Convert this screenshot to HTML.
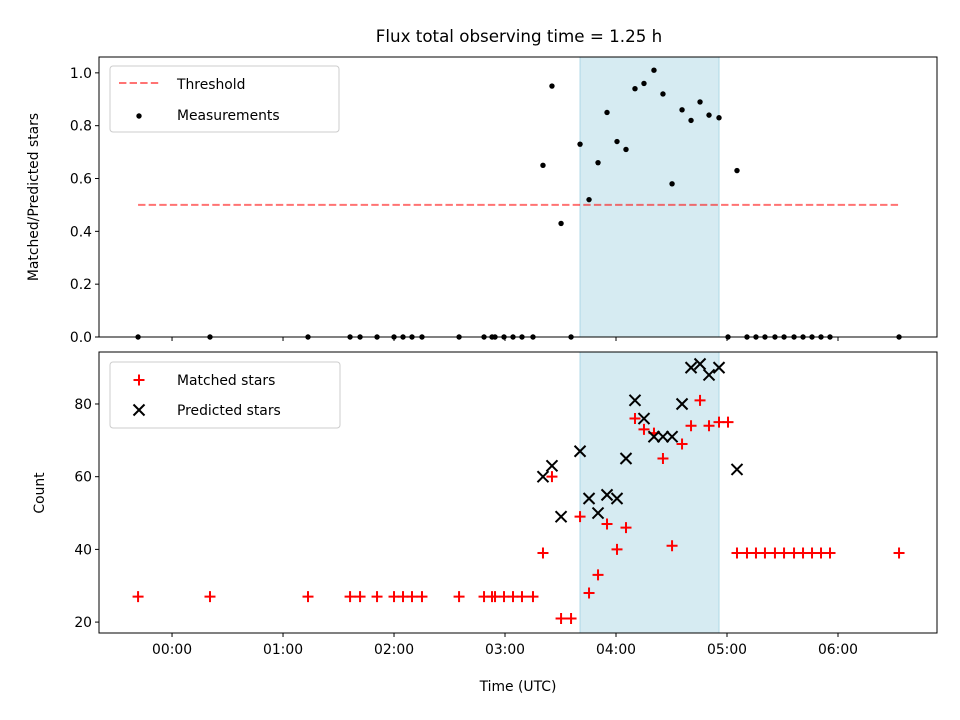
<!DOCTYPE html>
<html><head><meta charset="utf-8"><style>
body{margin:0;background:#fff}
svg{display:block;font-family:"DejaVu Sans","Liberation Sans",sans-serif}
</style></head><body>
<svg id="c" width="960" height="720" viewBox="0 0 960 720"></svg>
<script>
const times=[-0.306,0.342,1.225,1.604,1.694,1.847,2.0,2.081,2.162,2.252,2.586,2.811,2.883,2.91,2.991,3.072,3.153,3.252,3.342,3.423,3.505,3.595,3.676,3.757,3.838,3.919,4.009,4.09,4.171,4.252,4.342,4.423,4.505,4.595,4.676,4.757,4.838,4.928,5.009,5.09,5.18,5.261,5.342,5.432,5.514,5.604,5.685,5.766,5.847,5.928,6.55];
const matched=[27,27,27,27,27,27,27,27,27,27,27,27,27,27,27,27,27,27,39,60,21,21,49,28,33,47,40,46,76,73,72,65,41,69,74,81,74,75,75,39,39,39,39,39,39,39,39,39,39,39,39];
const predicted=[null,null,null,null,null,null,null,null,null,null,null,null,null,null,null,null,null,null,60,63,49,null,67,54,50,55,54,65,81,76,71,71,71,80,90,91,88,90,null,62,null,null,null,null,null,null,null,null,null,null,null];
const ratio=[0,0,0,0,0,0,0,0,0,0,0,0,0,0,0,0,0,0,0.65,0.95,0.43,0,0.73,0.52,0.66,0.85,0.74,0.71,0.94,0.96,1.01,0.92,0.58,0.86,0.82,0.89,0.84,0.83,0,0.63,0,0,0,0,0,0,0,0,0,0,0];
const threshold=0.5;
const thresholdSpan=[-0.306,6.55];
const obsSpan=[3.676,4.928];
const xTicks=[0,1,2,3,4,5,6];
const xTickLabels=["00:00","01:00","02:00","03:00","04:00","05:00","06:00"];
const topTicks=[0,0.2,0.4,0.6,0.8,1.0];
const botTicks=[20,40,60,80];

const NS="http://www.w3.org/2000/svg";
const svg=document.getElementById('c');
function el(t,a,p){const e=document.createElementNS(NS,t);for(const k in a)e.setAttribute(k,a[k]);(p||svg).appendChild(e);return e;}
const L=99,R=937,xmin=-0.658,xmax=6.892;
const X=h=>L+(h-xmin)/(xmax-xmin)*(R-L);
const T={top:57,bot:337,min:0,max:1.06};
const B={top:352,bot:633,min:17.0,max:94.3};
const Yt=v=>T.bot-(v-T.min)/(T.max-T.min)*(T.bot-T.top);
const Yb=v=>B.bot-(v-B.min)/(B.max-B.min)*(B.bot-B.top);
const FS=13.9;
function txt(x,y,s,opt,p){const t=el('text',Object.assign({x:x,y:y,'font-size':FS,fill:'#000'},opt||{}),p);t.textContent=s;return t;}

const title=txt(519,42,"Flux total observing time = 1.25 h",{'font-size':16.7,'text-anchor':'middle'});



function panel(P,name){
  const g=el('g',{});
  
  
  const sp=el('rect',{x:X(obsSpan[0]),y:P.top,width:X(obsSpan[1])-X(obsSpan[0]),height:P.bot-P.top,fill:'#add8e6','fill-opacity':0.5,stroke:'#add8e6'},g);
  
  
  return g;
}
function frame(P,Y,ticks,fmt,g,showLabels){
  el('rect',{x:L,y:P.top,width:R-L,height:P.bot-P.top,fill:'none',stroke:'#000','stroke-width':1},g);
  ticks.forEach(v=>{const y=Y(v);el('line',{x1:L-4,x2:L,y1:y,y2:y,stroke:'#000'},g);
    const t=txt(L-7,y+5,fmt(v),{'text-anchor':'end'});});
  xTicks.forEach((h,i)=>{const x=X(h);el('line',{x1:x,x2:x,y1:P.bot,y2:P.bot+4,stroke:'#000'},g);
    if(showLabels){const t=txt(x,P.bot+21,xTickLabels[i],{'text-anchor':'middle'});}});
}

const gt=panel(T,'ratio-panel');
const th=el('line',{x1:X(thresholdSpan[0]),x2:X(thresholdSpan[1]),y1:Yt(threshold),y2:Yt(threshold),stroke:'#ff0000','stroke-opacity':0.55,'stroke-width':2,'stroke-dasharray':'7.4,3.2'},gt);


times.forEach((h,i)=>{const c=el('circle',{cx:X(h),cy:Yt(ratio[i]),r:2.7,fill:'#000'},gt);
  
  });
frame(T,Yt,topTicks,v=>v.toFixed(1),gt,false);
const yl1=txt(0,0,"Matched/Predicted stars",{'text-anchor':'middle',transform:`translate(38,197) rotate(-90)`});


const gb=panel(B,'count-panel');
function plus(x,y,g){return el('path',{d:`M${x-5.5},${y}H${x+5.5}M${x},${y-5.5}V${y+5.5}`,stroke:'#ff0000','stroke-width':2},g);}
function cross(x,y,g){return el('path',{d:`M${x-5.5},${y-5.5}L${x+5.5},${y+5.5}M${x-5.5},${y+5.5}L${x+5.5},${y-5.5}`,stroke:'#000','stroke-width':2},g);}
times.forEach((h,i)=>{const p=plus(X(h),Yb(matched[i]),gb);
  
  });
times.forEach((h,i)=>{if(predicted[i]==null)return;const p=cross(X(h),Yb(predicted[i]),gb);
  
  });
frame(B,Yb,botTicks,v=>String(v),gb,true);
const yl2=txt(0,0,"Count",{'text-anchor':'middle',transform:`translate(44,493) rotate(-90)`});

const xl=txt(518,691,"Time (UTC)",{'text-anchor':'middle'});


const lg1=el('g',{});


el('rect',{x:110,y:66,width:229,height:66,rx:3,fill:'#fff','fill-opacity':0.8,stroke:'#ccc'},lg1);
el('line',{x1:119,x2:159,y1:83,y2:83,stroke:'#ff0000','stroke-opacity':0.55,'stroke-width':2,'stroke-dasharray':'7.4,3.2'},lg1);
txt(177,89,"Threshold",{},lg1);
el('circle',{cx:139,cy:116,r:2.7,fill:'#000'},lg1);
txt(177,120,"Measurements",{},lg1);
const lg2=el('g',{});


el('rect',{x:110,y:362,width:230,height:66,rx:3,fill:'#fff','fill-opacity':0.8,stroke:'#ccc'},lg2);
plus(139,380,lg2);
txt(177,385,"Matched stars",{},lg2);
cross(139,410,lg2);
txt(177,415,"Predicted stars",{},lg2);
</script>
</body></html>
